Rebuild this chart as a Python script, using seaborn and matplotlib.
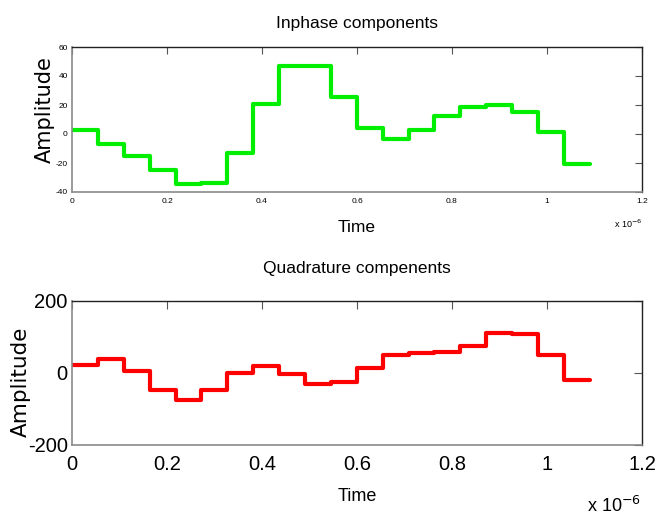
import numpy as np
import pandas as pd
import matplotlib
matplotlib.use("Agg")
import matplotlib.pyplot as plt
from matplotlib import font_manager
import seaborn as sns

# Symbol-period amplitudes of the two baseband components
inphase = [2.8, -7, -15, -24.6, -34.7, -34, -13.3, 21, 47, 47,
           25.7, 3.9, -3.7, 2.8, 12.6, 18.4, 19.8, 15.4, 1.6, -20.7]
quadrature = [22, 38, 6, -46, -74, -46, 0, 20, -2, -30,
              -26, 14, 50, 56, 58, 76, 110, 108, 50, -20]
symbol_period = 0.0545e-6

x_ticks = [0, 0.2e-6, 0.4e-6, 0.6e-6, 0.8e-6, 1.0e-6, 1.2e-6]
x_ticklabels = ["0", "0.2", "0.4", "0.6", "0.8", "1", "1.2"]
top_yticks = [-40, -20, 0, 20, 40, 60]
bottom_yticks = [-200, 0, 200]

sns.set_theme(style="white")
names = {f.name for f in font_manager.fontManager.ttflist}
narrow = "Liberation Sans Narrow" if "Liberation Sans Narrow" in names else "Liberation Sans"
plt.rcParams["font.family"] = [narrow, "DejaVu Sans"]
plt.rcParams["text.color"] = "black"
plt.rcParams["axes.labelcolor"] = "black"


def steps(values):
    t = np.arange(len(values) + 1) * symbol_period
    return pd.DataFrame({"t": t, "v": list(values) + [values[-1]]})


fig = plt.figure(figsize=(6.67, 5.19), dpi=100)
ax1 = fig.add_axes([72 / 667, 1 - 192 / 519, 570 / 667, 145 / 519])
ax2 = fig.add_axes([72 / 667, 1 - 445 / 519, 570 / 667, 144 / 519])


def style(ax, yticks, ylim, tick_size, tick_len, xpad):
    ax.set_xlim(0, 1.2e-6)
    ax.set_ylim(*ylim)
    ax.set_xticks(x_ticks)
    ax.set_xticklabels(x_ticklabels)
    ax.set_yticks(yticks)
    ax.set_yticklabels([str(v) for v in yticks])
    ax.tick_params(axis="both", direction="in", length=tick_len, width=0.8,
                   color="#555555", labelsize=tick_size, labelcolor="black",
                   top=True, right=True, pad=3)
    ax.tick_params(axis="x", pad=xpad)
    for side in ("left", "bottom"):
        ax.spines[side].set_color("#8a8a8a")
        ax.spines[side].set_linewidth(1.2)
    for side in ("top", "right"):
        ax.spines[side].set_color("#222222")
        ax.spines[side].set_linewidth(1.0)
    ax.grid(False)


d1 = steps(inphase)
sns.lineplot(data=d1, x="t", y="v", ax=ax1, color="#00ee00", linewidth=3.0,
             drawstyle="steps-post", sort=False)
style(ax1, top_yticks, (-40, 60), 6, 5, 4)
ax1.set_title("Inphase components", fontsize=12.5, pad=14)
ax1.set_xlabel("Time", fontsize=12.5, labelpad=11)
ax1.set_ylabel("Amplitude", fontsize=15, family="DejaVu Sans")
ax1.yaxis.set_label_coords(-0.03, 0.57)
ax1.text(1.0, -0.22, r"x 10$^{-6}$", transform=ax1.transAxes, fontsize=6.5,
         ha="right", va="center")

d2 = steps(quadrature)
sns.lineplot(data=d2, x="t", y="v", ax=ax2, color="#ff0000", linewidth=3.0,
             drawstyle="steps-post", sort=False)
style(ax2, bottom_yticks, (-200, 200), 14.5, 6, 7)
ax2.set_title("Quadrature compenents", fontsize=12.5, pad=20)
ax2.set_xlabel("Time", fontsize=13, labelpad=10)
ax2.set_ylabel("Amplitude", fontsize=15.5, family="DejaVu Sans")
ax2.yaxis.set_label_coords(-0.072, 0.44)
ax2.text(0.998, -0.42, r"x 10$^{-6}$", transform=ax2.transAxes, fontsize=13,
         ha="right", va="center")

fig.savefig("out.png", dpi=100, facecolor="white")
